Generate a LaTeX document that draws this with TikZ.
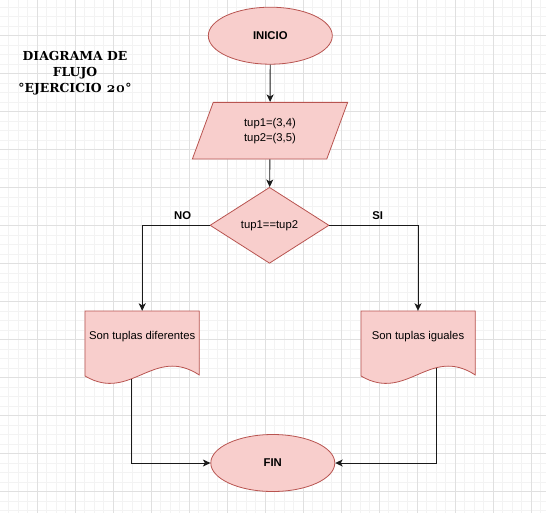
\documentclass[tikz,border=0pt]{standalone}
\usepackage{fontspec}
\setmainfont{Liberation Sans}
\newfontfamily\titulofont{DejaVu Serif}
\newfontfamily\cifrasfont[Numbers=OldStyle]{lmroman10-bold.otf}
\usetikzlibrary{arrows.meta,calc,positioning,shapes.geometric}

\definecolor{relleno}{HTML}{F8CECC}
\definecolor{borde}{HTML}{B85450}
\definecolor{linea}{HTML}{1A1A1A}
\definecolor{rejilla}{HTML}{E0E0E0}
\definecolor{rejillafina}{HTML}{F3F3F3}

\begin{document}
\begin{tikzpicture}[
  x=1pt, y=-1pt,
  >={Stealth[length=7.5pt,width=7pt,inset=2pt]},
  font=\fontsize{11.3}{15}\selectfont,
  forma/.style={draw=borde, fill=relleno, line width=0.8pt},
  terminal/.style={forma, ellipse, minimum width=124pt, minimum height=57pt, inner sep=0pt, font=\fontsize{11.3}{15}\selectfont\bfseries},
  entrada/.style={forma, trapezium, trapezium left angle=71.5, trapezium right angle=108.5, trapezium stretches=true, minimum width=156.6pt, minimum height=56.7pt, align=center},
  decision/.style={forma, diamond, minimum width=119pt, minimum height=76pt, inner sep=0pt},
  hoja/.style={minimum width=114.3pt, minimum height=51.4pt, inner sep=0pt},
  etiqueta/.style={font=\fontsize{11.3}{15}\selectfont\bfseries},
  flecha/.style={->, line width=0.9pt, draw=linea}
]
\useasboundingbox (0,0) rectangle (546,512);
\clip (0,0) rectangle (546,512);

% rejilla de fondo
\begin{scope}[shift={(-0.7,-2.3)}]
  \draw[rejillafina, line width=0.8pt, step=9.5pt] (-20,-20) grid (580,540);
  \draw[rejilla, line width=0.9pt, step=38pt] (-20,-20) grid (580,540);
\end{scope}

% titulo
\node[font=\titulofont\bfseries\fontsize{12.4}{16.3}\selectfont, align=center] (titulo) at (75,73)
  {DIAGRAMA DE\\FLUJO\\°EJERCICIO {\cifrasfont\fontsize{15}{16.3}\selectfont 20}°};

% contornos de los documentos
\foreach \xx in {85,361}
  \filldraw[forma] (\xx,311) -- (\xx+114.3,311) -- (\xx+114.3,375)
    .. controls (\xx+68.6,345) and (\xx+45.7,403) .. (\xx,376) -- cycle;

% nodos
\node[terminal] (inicio) at (270.3,35.7) {INICIO};
\node[entrada] (datos) at (270,130.7) {tup1=(3,4)\\tup2=(3,5)};
\node[decision] (cond) at (269.5,225.3) {tup1==tup2};
\node[hoja] (difer) at (142.2,336.7) {Son tuplas diferentes};
\node[hoja] (igual) at (418,336.7) {Son tuplas iguales};
\node[terminal] (fin) at (272.8,463) {FIN};

\node[etiqueta] (no) at (182.7,216) {NO};
\node[etiqueta] (si) at (377.7,216) {SI};

\coordinate (difer-out) at (131,379);
\coordinate (igual-out) at (436.7,367.6);

% conectores
\draw[flecha] (inicio) -- (datos);
\draw[flecha] (datos) -- (cond);
\draw[flecha] (cond.west) -| (difer.north);
\draw[flecha] (cond.east) -| (igual.north);
\draw[flecha] (difer-out) |- (fin.west);
\draw[flecha] (igual-out) |- (fin.east);
\end{tikzpicture}
\end{document}
